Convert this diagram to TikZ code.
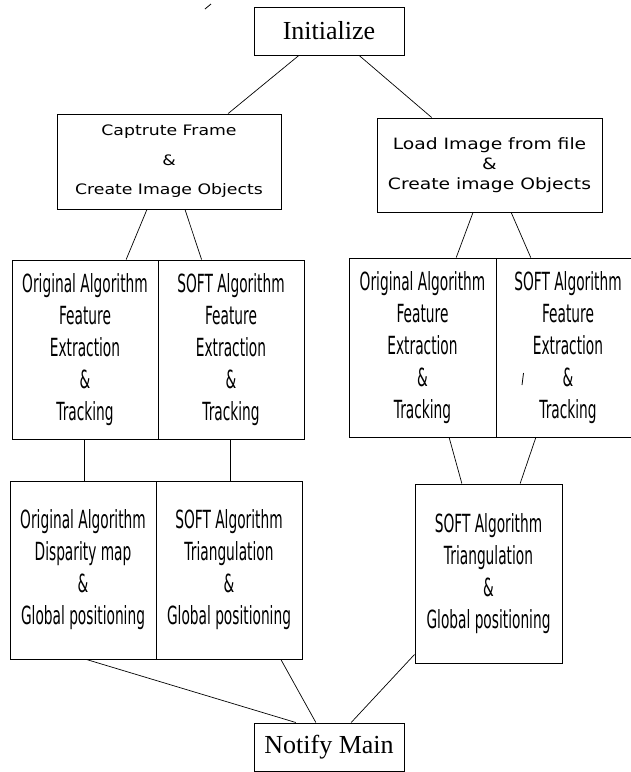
\documentclass[tikz,border=0pt]{standalone}
\usepackage{fontspec}
\usetikzlibrary{calc}
\newfontfamily\boxserif{Liberation Serif}
\newfontfamily\widesans[FakeStretch=1.2]{DejaVu Sans}
\newfontfamily\narrowsans[FakeStretch=0.55]{DejaVu Sans}

\tikzset{
  box/.style={draw, line width=1pt, rectangle, inner sep=0pt, align=center},
  endbox/.style={box, minimum width=150pt, minimum height=48pt,
    font=\boxserif\fontsize{26}{30}\selectfont},
  capbox/.style={box, minimum width=224pt, minimum height=95pt,
    font=\widesans\fontsize{14.4}{29.5}\selectfont},
  loadbox/.style={box, minimum width=225pt, minimum height=94pt,
    font=\widesans\fontsize{15.6}{20}\selectfont},
  algbox/.style={box, minimum width=146pt, minimum height=179pt,
    font=\narrowsans\fontsize{25}{32}\selectfont},
  link/.style={line width=0.7pt},
  stray/.style={line width=0.8pt}
}

\begin{document}
\begin{tikzpicture}[x=1pt, y=1pt]
  \useasboundingbox (0,0) rectangle (631,-772);
  \clip (0,0) rectangle (631,-772);

  % top and bottom
  \node[endbox] (init) at (329,-31) {Initialize};
  \node[endbox] (notify) at (329,-747) {Notify Main};

  % acquisition boxes
  \node[capbox] (cap) at (169,-161.5) {Captrute Frame\\\&\\Create Image Objects};
  \node[loadbox] (load) at (489.5,-165) {Load Image from file\\\&\\Create image Objects};

  % feature extraction boxes
  \node[algbox] (lo1) at (85,-349.5) {Original Algorithm\\Feature\\Extraction\\\&\\Tracking};
  \node[algbox] (ls1) at (231,-349.5) {SOFT Algorithm\\Feature\\Extraction\\\&\\Tracking};
  \node[algbox, minimum width=147pt] (ro1) at (422.5,-347.5) {Original Algorithm\\Feature\\Extraction\\\&\\Tracking};
  \node[algbox, minimum width=144pt] (rs1) at (568,-347.5) {SOFT Algorithm\\Feature\\Extraction\\\&\\Tracking};

  % positioning boxes
  \node[algbox, minimum height=178pt] (lo2) at (83,-570) {Original Algorithm\\Disparity map\\\&\\Global positioning};
  \node[algbox, minimum height=178pt] (ls2) at (229,-570) {SOFT Algorithm\\Triangulation\\\&\\Global positioning};
  \node[algbox, minimum width=147pt] (rs2) at (488.5,-573.5) {SOFT Algorithm\\Triangulation\\\&\\Global positioning};

  % connectors
  \draw[link] ($(init.south west)!0.30!(init.south east)$) -- ($(cap.north west)!0.763!(cap.north east)$);
  \draw[link] ($(init.south west)!0.70!(init.south east)$) -- ($(load.north west)!0.244!(load.north east)$);

  \draw[link] ($(cap.south west)!0.402!(cap.south east)$) -- ($(lo1.north west)!0.78!(lo1.north east)$);
  \draw[link] ($(cap.south west)!0.571!(cap.south east)$) -- ($(ls1.north west)!0.30!(ls1.north east)$);
  \draw[link] ($(load.south west)!0.427!(load.south east)$) -- ($(ro1.north west)!0.728!(ro1.north east)$);
  \draw[link] ($(load.south west)!0.596!(load.south east)$) -- ($(rs1.north west)!0.243!(rs1.north east)$);

  \draw[link] ($(lo1.south west)!0.493!(lo1.south east)$) coordinate (p1) -- (p1 |- lo2.north);
  \draw[link] ($(ls1.south west)!0.493!(ls1.south east)$) coordinate (p2) -- (p2 |- ls2.north);
  \draw[link] ($(ro1.south west)!0.68!(ro1.south east)$) -- ($(rs2.north west)!0.32!(rs2.north east)$);
  \draw[link] ($(rs1.south west)!0.278!(rs1.south east)$) -- ($(rs2.north west)!0.714!(rs2.north east)$);

  \draw[link] ($(lo2.south west)!0.524!(lo2.south east)$) -- ($(notify.north west)!0.28!(notify.north east)$);
  \draw[link] ($(ls2.south west)!0.853!(ls2.south east)$) -- ($(notify.north west)!0.413!(notify.north east)$);
  \draw[link] ($(rs2.north west)!0.95!(rs2.south west)$) -- ($(notify.north west)!0.647!(notify.north east)$);

  % small stray strokes
  \draw[stray] (205,-9) -- (211,-4);
  \draw[stray] (522,-385) -- (523.5,-373);
\end{tikzpicture}
\end{document}
